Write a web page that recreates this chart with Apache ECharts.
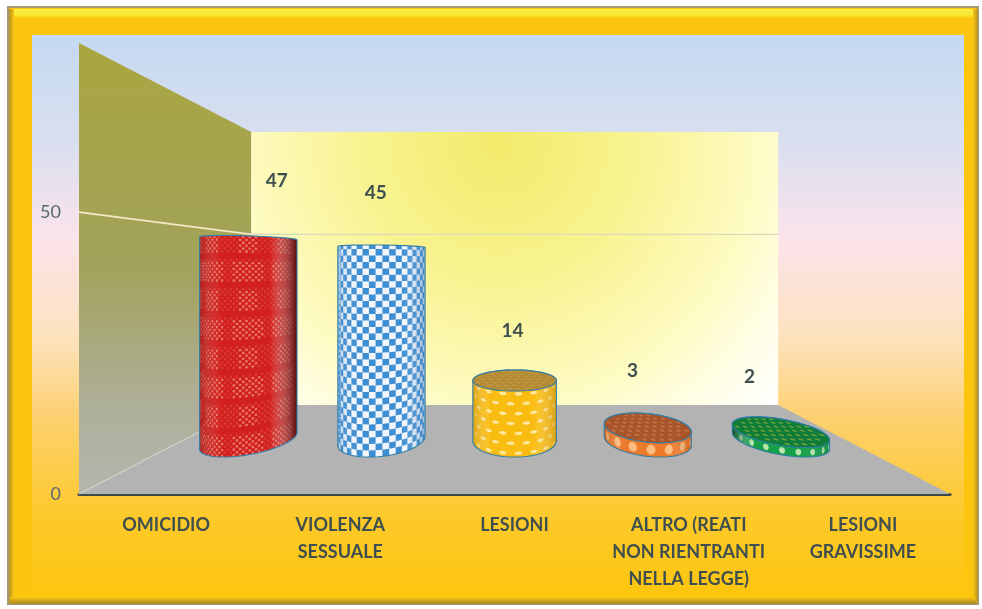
<!DOCTYPE html>
<html>
<head>
<meta charset="utf-8">
<style>
html,body{margin:0;padding:0;background:#fff;}
#c{width:982px;height:609px;filter:blur(0.5px);}
</style>
<script src="https://cdn.jsdelivr.net/npm/echarts@6/dist/echarts.min.js"></script>
</head>
<body>
<div id="c"></div>
<script>
// ---- data ----
const categories = ['OMICIDIO', 'VIOLENZA\nSESSUALE', 'LESIONI', 'ALTRO (REATI\nNON RIENTRANTI\nNELLA LEGGE)', 'LESIONI\nGRAVISSIME'];
const values = [47, 45, 14, 3, 2];
const yTicks = [0, 50];
const yMax = 80;

// ---- look ----
const vanish = [515, 268.5];      // vanishing point of the pseudo-3D box
const depthK = 0.653;             // perspective strength
const barDepth = 0.49;            // bar centres, 0 = front edge, 1 = back wall
const radiusX = 0.315;            // fraction of a category band
const radiusZ = 0.19;             // in depth units
const labelShift = [[26, -58], [-7, -54], [-2, -49], [-14, -56], [-29, -54]];
const outline = '#2f7ea8';
const inkDark = '#3f4f50';
const barStyles = [
  {base:'#d2201e', ink:'rgba(244,170,150,.62)', ink2:'rgba(244,150,130,.22)', edge:['rgba(90,0,0,.3)','rgba(60,0,0,.85)']},
  {base:'#f2f6fc', ink:'#3d8ed2', edge:['rgba(40,110,180,.3)','rgba(40,100,170,.45)']},
  {base:'#f9bd12', ink:'rgba(255,240,190,.8)', edge:['rgba(190,130,0,.5)','rgba(190,130,0,.55)'], top:'#b58b36', topInk:'rgba(200,160,80,.7)'},
  {base:'#ee7a2c', ink:'rgba(255,205,150,.8)', edge:['rgba(150,60,0,.4)','rgba(150,60,0,.4)'], top:'#a9552c', topInk:'rgba(200,125,80,.7)'},
  {base:'#17a04a', ink:'rgba(215,240,190,.85)', edge:['rgba(0,50,20,.8)','rgba(0,60,30,.2)'], top:'#0f7c38', topInk:'rgba(170,190,70,.6)'}
];

function hull(pts){
  const p = pts.slice().sort((a,b)=>a[0]-b[0]||a[1]-b[1]);
  const cross=(o,a,b)=>(a[0]-o[0])*(b[1]-o[1])-(a[1]-o[1])*(b[0]-o[0]);
  const lo=[],up=[];
  for(const q of p){while(lo.length>1&&cross(lo[lo.length-2],lo[lo.length-1],q)<=0)lo.pop();lo.push(q);}
  for(const q of p.slice().reverse()){while(up.length>1&&cross(up[up.length-2],up[up.length-1],q)<=0)up.pop();up.push(q);}
  return lo.slice(0,-1).concat(up.slice(0,-1));
}
function polysEl(polys, fill){
  let d='',x0=1e9,y0=1e9,x1=-1e9,y1=-1e9;
  polys.forEach(pl=>{pl.forEach((q,i)=>{d+=(i?'L':'M')+q[0].toFixed(2)+' '+q[1].toFixed(2);
    x0=Math.min(x0,q[0]);y0=Math.min(y0,q[1]);x1=Math.max(x1,q[0]);y1=Math.max(y1,q[1]);});d+='Z';});
  return {type:'path',silent:true,shape:{pathData:d,x:x0,y:y0,width:x1-x0,height:y1-y0,layout:'cover'},style:{fill:fill}};
}

function renderBar(params, api){
  const i = api.value(0), val = api.value(1);
  const band = api.size([1,0])[0];
  const X0 = api.coord([i,0])[0];
  const R = band*radiusX;
  const project=(X,Z,v)=>{
    const s=1/(1+depthK*Z), yf=api.coord([i,v])[1];
    return [vanish[0]+(X-vanish[0])*s, vanish[1]+(yf-vanish[1])*s];
  };
  const disk=(u,w,v)=>project(X0+R*u, barDepth+radiusZ*w, v);
  const surf=(t,v)=>project(X0+R*Math.cos(t), barDepth-radiusZ*Math.sin(t), v);
  const ring=v=>{const o=[];for(let k=0;k<64;k++){const a=k/64*2*Math.PI;o.push(disk(Math.cos(a),Math.sin(a),v));}return o;};
  const clampT=t=>Math.max(0,Math.min(Math.PI,t)), clampV=v=>Math.max(0,Math.min(val,v));
  const blob=(t,v,dt,dv)=>{const o=[];for(let k=0;k<8;k++){const a=k/8*2*Math.PI;o.push(surf(clampT(t+dt*Math.cos(a)),clampV(v+dv*Math.sin(a))));}return o;};
  const cell=(t1,t2,v1,v2)=>[surf(t1,v1),surf(t2,v1),surf(t2,v2),surf(t1,v2)];
  const st = barStyles[i];
  const body = hull(ring(0).concat(ring(val)));
  const polys=[], faint=[], PI=Math.PI;
  if(i===0){
    const dt=PI/52, dv=0.62;
    for(let c=0;c<52;c++)for(let r=0;r*dv<val;r++){
      if((c+r)%2) continue;
      const q=cell(c*dt,(c+.8)*dt,r*dv,Math.min(val,(r+.8)*dv));
      if(r%10>=7||c%13>=10) { if(r%10<8) faint.push(q); continue; }
      if((c%13>=2&&c%13<8)||r%20<10) polys.push(q); else faint.push(q);
    }
  } else if(i===1){
    const dt=PI/22, dv=1.38;
    for(let c=0;c<22;c++)for(let r=0;r*dv<val;r++){
      if((c+r)%2) continue;
      polys.push(cell(c*dt,(c+1)*dt,r*dv,Math.min(val,(r+1)*dv)));
    }
  } else if(i===2){
    for(let r=0;r*2.1<val+1;r++)for(let c=0;c<9;c++){
      polys.push(blob((c+(r%2?.5:0)+.25)*PI/9,r*2.1+.8,.09,.38));
    }
  } else {
    const n=i===3?8:10;
    for(let c=0;c<n;c++) polys.push(blob((c+.5)*PI/n,val*.5,i===3?.1:.06,val*.36));
  }
  const children=[
    {type:'polygon',silent:true,shape:{points:body},style:{fill:st.base}}
  ];
  if(faint.length) children.push(polysEl(faint,st.ink2));
  children.push(polysEl(polys,st.ink));
  children.push({type:'polygon',silent:true,shape:{points:body},style:{
      fill:{type:'linear',x:0,y:0,x2:1,y2:0,colorStops:[
        {offset:0,color:st.edge[0]},{offset:.22,color:'rgba(255,255,255,0)'},
        {offset:.72,color:'rgba(255,255,255,0)'},{offset:1,color:st.edge[1]}]},
      stroke:outline,lineWidth:1.1,lineJoin:'round'}});
  if(st.top){
    const dots=[];
    for(let w=-3;w<=3;w++)for(let u=-5;u<=5;u++){
      const uu=(u+(w%2?.5:0))*.19, ww=w*.27;
      if(uu*uu+ww*ww>.82) continue;
      const o=[];for(let k=0;k<6;k++){const a=k/6*2*PI;o.push(disk(uu+.055*Math.cos(a),ww+.075*Math.sin(a),val));}
      dots.push(o);
    }
    children.push({type:'polygon',silent:true,shape:{points:ring(val)},style:{fill:st.top}});
    children.push(polysEl(dots,st.topInk));
    children.push({type:'polygon',silent:true,shape:{points:ring(val)},style:{fill:'none',stroke:outline,lineWidth:1.1}});
  }
  const tc=disk(0,0,val);
  children.push({type:'text',silent:true,style:{
    x:tc[0]+labelShift[i][0],y:tc[1]+labelShift[i][1],text:String(val),
    align:'center',verticalAlign:'middle',fill:inkDark,
    font:'bold 19px Lato, "Open Sans", sans-serif'}});
  return {type:'group',children};
}

function renderWalls(params, api){
  const g=params.coordSys, L=g.x, Rt=g.x+g.width;
  const s=1/(1+depthK);
  const back=(x,y)=>[vanish[0]+(x-vanish[0])*s, vanish[1]+(y-vanish[1])*s];
  const y0=api.coord([0,0])[1], yT=api.coord([0,yMax])[1];
  const kids=[
    {type:'polygon',silent:true,shape:{points:[[L,yT],back(L,yT),back(L,y0),[L,y0]]},style:{
      fill:{type:'linear',x:0,y:0,x2:0,y2:1,colorStops:[{offset:0,color:'#a9a63f'},{offset:.5,color:'#a2a35c'},{offset:.8,color:'#aeaf98'},{offset:1,color:'#b5b5ae'}]}}},
    {type:'polygon',silent:true,shape:{points:[back(L,yT),back(Rt,yT),back(Rt,y0),back(L,y0)]},style:{
      fill:{type:'radial',x:.47,y:.05,r:1.4,colorStops:[{offset:0,color:'#f2eb6c'},{offset:.35,color:'#f8f38f'},{offset:.68,color:'#fefbc4'},{offset:.84,color:'#fffee6'},{offset:1,color:'#ffffff'}]}}},
    {type:'polygon',silent:true,shape:{points:[[L,y0],back(L,y0),back(Rt,y0),[Rt,y0]]},style:{fill:'#b3b3b3'}},
    {type:'line',silent:true,shape:{x1:L,y1:y0,x2:back(L,y0)[0],y2:back(L,y0)[1]},style:{stroke:'#d2d2ca',lineWidth:1.1}}
  ];
  yTicks.filter(t=>t>0).forEach(t=>{
    const y=api.coord([0,t])[1], b=back(L,y), e=back(Rt,y);
    kids.push({type:'line',silent:true,shape:{x1:L,y1:y,x2:b[0],y2:b[1]},style:{stroke:'#f4e8c6',lineWidth:1.6}});
    kids.push({type:'line',silent:true,shape:{x1:b[0],y1:b[1],x2:e[0],y2:e[1]},style:{stroke:'#d9d9bc',lineWidth:1.2}});
  });
  return {type:'group',children:kids};
}

const chart = echarts.init(document.getElementById('c'), null, {renderer:'canvas'});
chart.setOption({
  animation:false,
  backgroundColor:'#ffffff',
  graphic:[
    {type:'rect',z:-20,silent:true,shape:{x:8,y:7,width:970,height:597},
      style:{fill:'#fdc60e',stroke:'#a79a72',lineWidth:2}},
    {type:'rect',z:-19,silent:true,shape:{x:10,y:9,width:966,height:9},
      style:{fill:{type:'linear',x:0,y:0,x2:0,y2:1,colorStops:[{offset:0,color:'#f9ee4a'},{offset:.7,color:'#f8e82e'},{offset:1,color:'#fdc60e'}]}}},
    {type:'rect',z:-19,silent:true,shape:{x:9,y:9,width:5,height:594},
      style:{fill:{type:'linear',x:0,y:0,x2:1,y2:0,colorStops:[{offset:0,color:'#b3922a'},{offset:1,color:'#fdc60e'}]}}},
    {type:'rect',z:-19,silent:true,shape:{x:973,y:9,width:5,height:594},
      style:{fill:{type:'linear',x:0,y:0,x2:1,y2:0,colorStops:[{offset:0,color:'#fdc60e'},{offset:1,color:'#b3922a'}]}}},
    {type:'rect',z:-19,silent:true,shape:{x:10,y:597,width:966,height:7},
      style:{fill:{type:'linear',x:0,y:0,x2:0,y2:1,colorStops:[{offset:0,color:'#fdc60e'},{offset:1,color:'#a8882a'}]}}},
    {type:'rect',z:-18,silent:true,shape:{x:32,y:35,width:932,height:552},
      style:{fill:{type:'linear',x:0,y:0,x2:0,y2:1,colorStops:[
        {offset:0,color:'#c4d9f1'},{offset:.2,color:'#dadfef'},{offset:.37,color:'#fbe3ea'},
        {offset:.55,color:'#fde2bd'},{offset:.7,color:'#fdd06d'},{offset:.88,color:'#fdc928'},{offset:1,color:'#fdc612'}]}}}
  ],
  grid:{left:79,right:32,top:43,bottom:115,containLabel:false},
  xAxis:{type:'category',data:categories,
    axisLine:{show:true,lineStyle:{color:'#3d4a4a',width:3}},
    axisTick:{show:false},splitLine:{show:false},
    axisLabel:{color:inkDark,fontFamily:'Lato, "Open Sans", sans-serif',fontWeight:'bold',fontSize:18,lineHeight:27,margin:18,interval:0}},
  yAxis:{type:'value',min:0,max:yMax,
    axisLine:{show:false},axisTick:{show:false},splitLine:{show:false},
    axisLabel:{customValues:yTicks,color:'#56686e',fontFamily:'Lato, "Open Sans", sans-serif',fontSize:18,margin:18,padding:[6,0,0,0]}},
  series:[
    {type:'custom',z:1,silent:true,clip:false,coordinateSystem:'cartesian2d',renderItem:renderWalls,data:[[0,0]],encode:{x:0,y:1}},
    {type:'custom',z:2,silent:true,clip:false,coordinateSystem:'cartesian2d',renderItem:renderBar,
      data:values.map((v,i)=>[i,v]),encode:{x:0,y:1}}
  ]
});
</script>
</body>
</html>
